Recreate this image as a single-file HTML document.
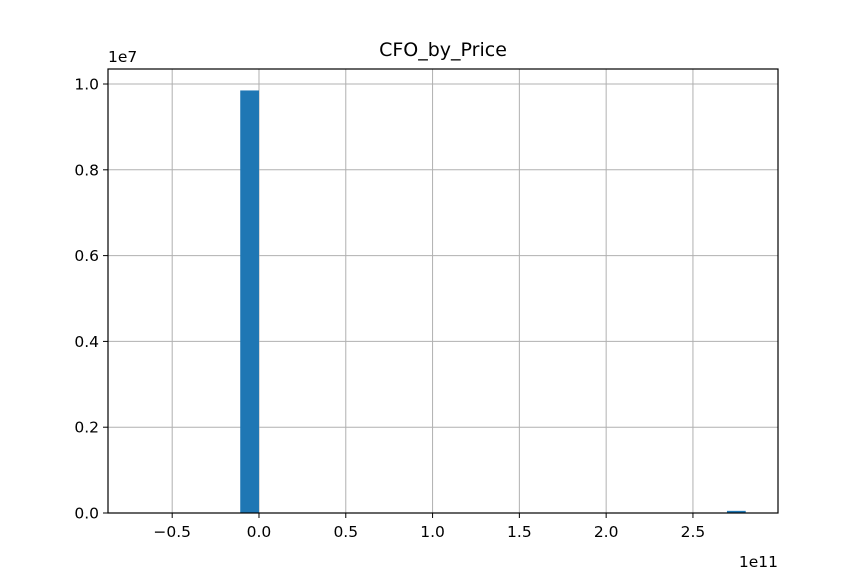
<!DOCTYPE html>
<html><head><meta charset="utf-8"><style>
body{margin:0;background:#fff;font-family:"Liberation Sans","DejaVu Sans",sans-serif}
text{font-family:"DejaVu Sans","Liberation Sans",sans-serif}
</style></head><body>
<svg id="c" width="864" height="576" xmlns="http://www.w3.org/2000/svg"></svg>
<script>
const binStarts=[-0.108,2.696];
const binWidth=0.108;
const counts=[0.985,0.005];
const xTicks=[-0.5,0,0.5,1.0,1.5,2.0,2.5];
const xTickLabels=["\u22120.5","0.0","0.5","1.0","1.5","2.0","2.5"];
const yTicks=[0,0.2,0.4,0.6,0.8,1.0];
const yTickLabels=["0.0","0.2","0.4","0.6","0.8","1.0"];
const L=108,R=778,T=69,B=513;
const x0=-0.8698,x1=2.99,y0=0,y1=1.035;
const sx=v=>L+(v-x0)/(x1-x0)*(R-L);
const sy=v=>B-(v-y0)/(y1-y0)*(B-T);
const svg=document.getElementById('c');
const NS='http://www.w3.org/2000/svg';
function mk(t,a,p){const e=document.createElementNS(NS,t);for(const k in a)e.setAttribute(k,a[k]);(p||svg).appendChild(e);return e;}
xTicks.forEach((v,i)=>{
 const g=mk('line',{x1:sx(v),x2:sx(v),y1:T,y2:B,stroke:'#b0b0b0','stroke-width':1});
 
 
});
yTicks.forEach((v,i)=>{
 const g=mk('line',{x1:L,x2:R,y1:sy(v),y2:sy(v),stroke:'#b0b0b0','stroke-width':1});
 
 
});
binStarts.forEach((s,i)=>{
 const r=mk('rect',{x:sx(s),y:sy(counts[i]),width:sx(s+binWidth)-sx(s),height:sy(0)-sy(counts[i]),fill:'#1f77b4'});
 
 
});
const fr=mk('rect',{x:L,y:T,width:R-L,height:B-T,fill:'none',stroke:'#000','stroke-width':1.2});


xTicks.forEach((v,i)=>{
 mk('line',{x1:sx(v),x2:sx(v),y1:B,y2:B+5,stroke:'#000','stroke-width':1});
 const t=mk('text',{x:sx(v),y:B+24,'text-anchor':'middle','font-size':15.5,fill:'#000'});
 t.textContent=xTickLabels[i];
 
 
});
yTicks.forEach((v,i)=>{
 mk('line',{x1:L-5,x2:L,y1:sy(v),y2:sy(v),stroke:'#000','stroke-width':1});
 const t=mk('text',{x:L-9,y:sy(v)+5.5,'text-anchor':'end','font-size':15.5,fill:'#000'});
 t.textContent=yTickLabels[i];
 
 
});
let t=mk('text',{x:108,y:62,'font-size':15.5,fill:'#000'});t.textContent='1e7';


t=mk('text',{x:778,y:567,'text-anchor':'end','font-size':15.5,fill:'#000'});t.textContent='1e11';


t=mk('text',{x:443,y:56,'text-anchor':'middle','font-size':19,fill:'#000'});t.textContent='CFO_by_Price';


</script>
</body></html>
